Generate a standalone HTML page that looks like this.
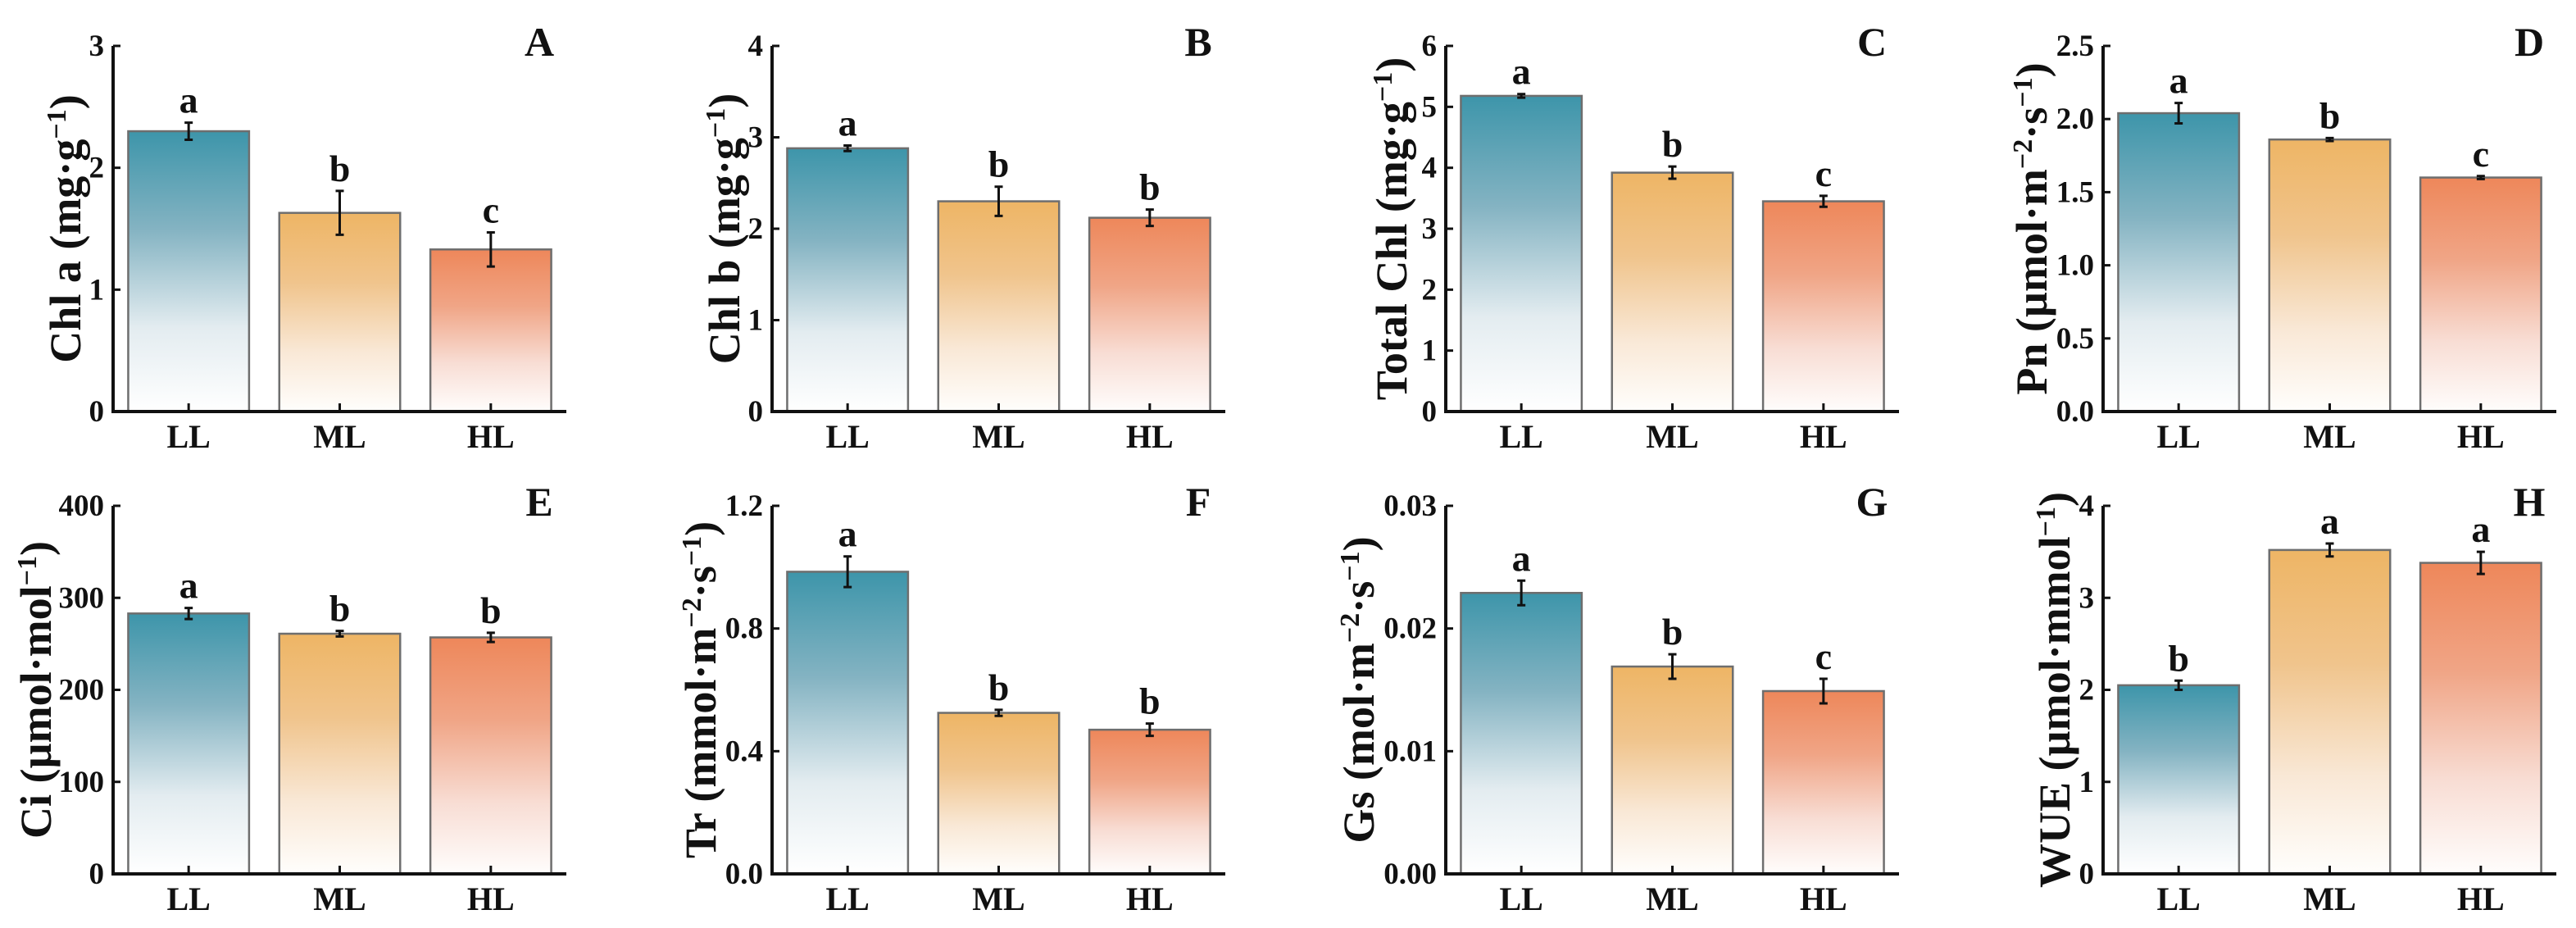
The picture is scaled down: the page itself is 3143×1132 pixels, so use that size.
<!DOCTYPE html>
<html><head><meta charset="utf-8"><style>
html,body{margin:0;padding:0;background:#fff;}
svg{display:block;font-family:"Liberation Serif",serif;font-weight:bold;}
</style></head><body>
<svg id="fig" width="3143" height="1132" viewBox="0 0 3143 1132" xmlns="http://www.w3.org/2000/svg">
<defs>
<linearGradient id="gLL" x1="0" y1="0" x2="0" y2="1"><stop offset="0" stop-color="#3d95aa"/><stop offset="0.35" stop-color="#84b3c2"/><stop offset="0.7" stop-color="#e3ecf0"/><stop offset="1" stop-color="#ffffff"/></linearGradient>
<linearGradient id="gML" x1="0" y1="0" x2="0" y2="1"><stop offset="0" stop-color="#eeb565"/><stop offset="0.35" stop-color="#f0c48c"/><stop offset="0.7" stop-color="#f9e8d6"/><stop offset="1" stop-color="#fffefc"/></linearGradient>
<linearGradient id="gHL" x1="0" y1="0" x2="0" y2="1"><stop offset="0" stop-color="#ee875a"/><stop offset="0.35" stop-color="#f0a586"/><stop offset="0.7" stop-color="#f8ddd4"/><stop offset="1" stop-color="#fffdfc"/></linearGradient>
</defs>
</svg>
<script>
const categories = ["LL","ML","HL"];
const valsA = [2.30, 1.63, 1.33]; const errA = [0.07, 0.18, 0.14]; const sigA = ["a","b","c"];
const valsB = [2.88, 2.30, 2.12]; const errB = [0.03, 0.16, 0.09]; const sigB = ["a","b","b"];
const valsC = [5.18, 3.92, 3.45]; const errC = [0.03, 0.10, 0.09]; const sigC = ["a","b","c"];
const valsD = [2.04, 1.86, 1.60]; const errD = [0.07, 0.01, 0.01]; const sigD = ["a","b","c"];
const valsE = [283, 261, 257]; const errE = [6, 3, 5]; const sigE = ["a","b","b"];
const valsF = [0.985, 0.525, 0.470]; const errF = [0.05, 0.01, 0.02]; const sigF = ["a","b","b"];
const valsG = [0.0229, 0.0169, 0.0149]; const errG = [0.0010, 0.0010, 0.0010]; const sigG = ["a","b","c"];
const valsH = [2.05, 3.52, 3.38]; const errH = [0.05, 0.07, 0.12]; const sigH = ["b","a","a"];
const ticksA = ["0","1","2","3"];
const ticksB = ["0","1","2","3","4"];
const ticksC = ["0","1","2","3","4","5","6"];
const ticksD = ["0.0","0.5","1.0","1.5","2.0","2.5"];
const ticksE = ["0","100","200","300","400"];
const ticksF = ["0.0","0.4","0.8","1.2"];
const ticksG = ["0.00","0.01","0.02","0.03"];
const ticksH = ["0","1","2","3","4"];

const NS = "http://www.w3.org/2000/svg";
const svg = document.getElementById("fig");
function mk(tag, attrs, parent){const e=document.createElementNS(NS,tag);for(const k in attrs)e.setAttribute(k,attrs[k]);(parent||svg).appendChild(e);return e;}

const panels = [
 {L:"A",v:valsA,e:errA,s:sigA,t:ticksA,ax:138,top:56,zero:502,tx:79,title:[["Chl a (mg·g",0],["−1",1],[")",0]]},
 {L:"B",v:valsB,e:errB,s:sigB,t:ticksB,ax:942,top:56,zero:502,tx:883,title:[["Chl b (mg·g",0],["−1",1],[")",0]]},
 {L:"C",v:valsC,e:errC,s:sigC,t:ticksC,ax:1764,top:56,zero:502,tx:1697,title:[["Total Chl (mg·g",0],["−1",1],[")",0]]},
 {L:"D",v:valsD,e:errD,s:sigD,t:ticksD,ax:2566,top:56,zero:502,tx:2478,title:[["Pn (µmol·m",0],["−2",1],["·s",0],["−1",1],[")",0]]},
 {L:"E",v:valsE,e:errE,s:sigE,t:ticksE,ax:138,top:617,zero:1066,tx:43,title:[["Ci (µmol·mol",0],["−1",1],[")",0]]},
 {L:"F",v:valsF,e:errF,s:sigF,t:ticksF,ax:942,top:617,zero:1066,tx:854,title:[["Tr (mmol·m",0],["−2",1],["·s",0],["−1",1],[")",0]]},
 {L:"G",v:valsG,e:errG,s:sigG,t:ticksG,ax:1764,top:617,zero:1066,tx:1657,title:[["Gs (mol·m",0],["−2",1],["·s",0],["−1",1],[")",0]]},
 {L:"H",v:valsH,e:errH,s:sigH,t:ticksH,ax:2566,top:617,zero:1066,tx:2506,title:[["WUE (µmol·mmol",0],["−1",1],[")",0]]}
];
const grads = ["url(#gLL)","url(#gML)","url(#gHL)"];
const plotW = 553;

panels.forEach(p=>{
  const g = mk("g",{});
  
  
  const ymax = parseFloat(p.t[p.t.length-1]);
  const y = v => p.zero - v/ymax*(p.zero-p.top);
  const band = plotW/categories.length;
  const x = i => p.ax + band*(i+0.5);
  const bw = band*0.8;
  categories.forEach((c,i)=>{
    const r = mk("rect",{x:x(i)-bw/2,y:y(p.v[i]),width:bw,height:p.zero-y(p.v[i]),fill:grads[i],stroke:"#6e6e6e","stroke-width":2.5},g);
    
    
    const top=y(p.v[i]+p.e[i]), bot=y(p.v[i]-p.e[i]);
    const eb = mk("path",{d:`M${x(i)},${top}V${bot}M${x(i)-5},${top}H${x(i)+5}M${x(i)-5},${bot}H${x(i)+5}`,stroke:"#111","stroke-width":3,fill:"none"},g);
    
    
    const s = mk("text",{x:x(i),y:top-12,"text-anchor":"middle","font-size":46,fill:"#111"},g);
    s.textContent = p.s[i];
    
    
    const cl = mk("text",{x:x(i),y:p.zero+44,"text-anchor":"middle","font-size":40,fill:"#111"},g);
    cl.textContent = c;
    
    
    mk("line",{x1:x(i),x2:x(i),y1:p.zero,y2:p.zero-10,stroke:"#111","stroke-width":3},g);
  });
  const ya = mk("line",{x1:p.ax,x2:p.ax,y1:p.top,y2:p.zero+2,stroke:"#111","stroke-width":4},g);
  
  
  const xa = mk("line",{x1:p.ax-2,x2:p.ax+plotW,y1:p.zero,y2:p.zero,stroke:"#111","stroke-width":4},g);
  
  
  p.t.forEach(t=>{
    const yy = y(parseFloat(t));
    mk("line",{x1:p.ax,x2:p.ax+9,y1:yy,y2:yy,stroke:"#111","stroke-width":3},g);
    const tl = mk("text",{x:p.ax-11,y:yy+12,"text-anchor":"end","font-size":37,fill:"#111"},g);
    tl.textContent = t;
    
    
  });
  const cy = (p.top+p.zero)/2;
  const tt = mk("text",{x:0,y:0,transform:`translate(${p.tx+19},${cy}) rotate(-90)`,"text-anchor":"middle","font-size":54,fill:"#111"},g);
  
  
  p.title.forEach(([txt,sup])=>{
    const ts = mk("tspan",sup?{"baseline-shift":"super","font-size":34}:{},tt);
    ts.textContent = txt;
  });
  const pl = mk("text",{x:p.ax+520,y:p.top+12,"text-anchor":"middle","font-size":50,fill:"#111"},g);
  pl.textContent = p.L;
  
  
});
</script>
</body></html>
